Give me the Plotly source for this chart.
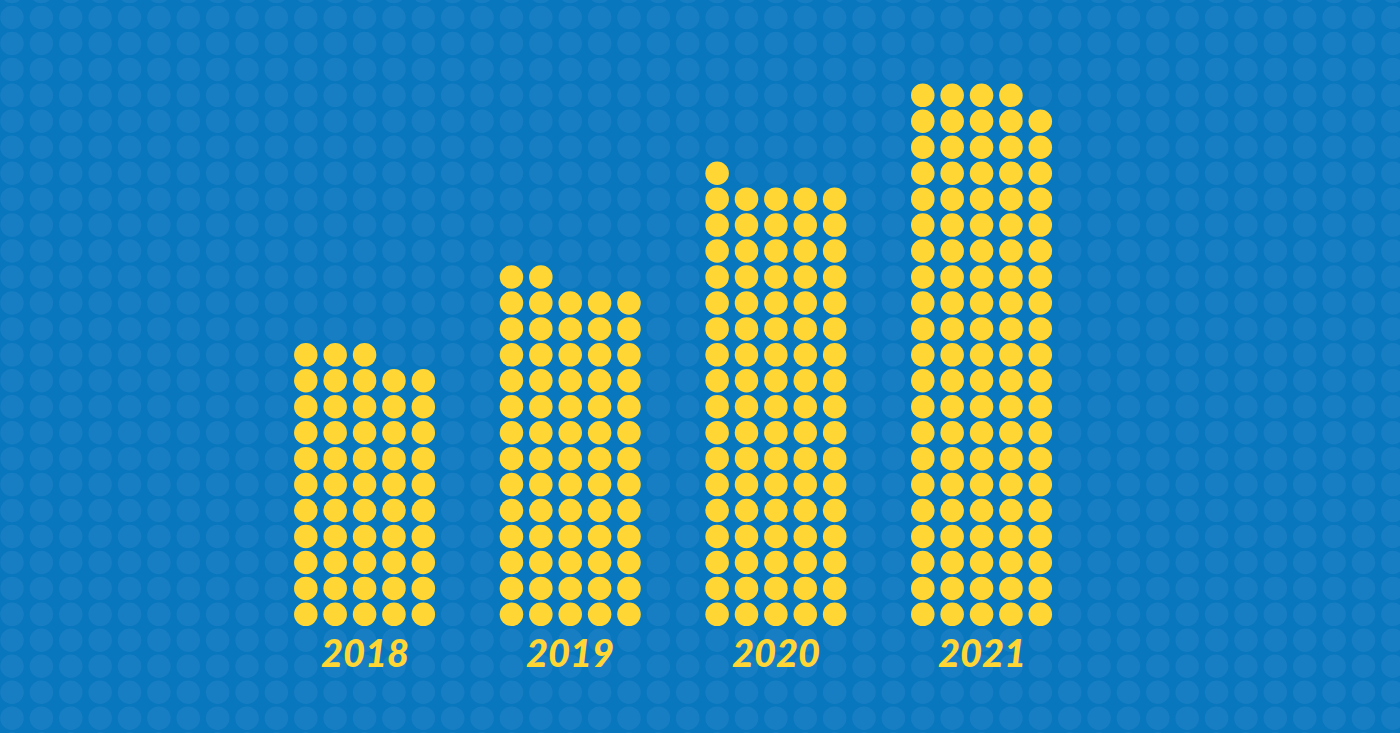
import plotly.graph_objects as go

# dots per column for each year (5 columns per year, left to right)
years = ["2018", "2019", "2020", "2021"]
col_counts_2018 = [11, 11, 11, 10, 10]
col_counts_2019 = [14, 14, 13, 13, 13]
col_counts_2020 = [18, 17, 17, 17, 17]
col_counts_2021 = [21, 21, 21, 21, 20]
col_counts = [col_counts_2018, col_counts_2019, col_counts_2020, col_counts_2021]

BG = "#0877be"
BG_DOT = "#187ec3"
YELLOW = "#ffd633"

# grid layout (in cell units)
first_col = 10
group_step = 7
base_row = 23
n_cols = 48
n_rows = 28

fig = go.Figure()

# faint background dots
bx, by = [], []
for c in range(-1, n_cols + 1):
    for r in range(-1, n_rows + 1):
        bx.append(c)
        by.append(r)
fig.add_trace(go.Scatter(
    x=bx, y=by, mode="markers", hoverinfo="skip",
    marker=dict(size=23.5, color=BG_DOT, line=dict(width=0))))

# yellow dots per year
for i, (year, counts) in enumerate(zip(years, col_counts)):
    xs, ys = [], []
    for j, n in enumerate(counts):
        for k in range(n):
            xs.append(first_col + group_step * i + j)
            ys.append(base_row - k)
    fig.add_trace(go.Scatter(
        x=xs, y=ys, mode="markers", name=year,
        marker=dict(size=23.5, color=YELLOW, line=dict(width=0))))
    fig.add_annotation(
        x=first_col + group_step * i + 2, y=base_row + 1.45,
        text=year, showarrow=False, xanchor="center", yanchor="middle",
        font=dict(family="Lato", size=38, color=YELLOW, weight=900, style="italic"))

fig.update_layout(
    width=1400, height=733,
    margin=dict(l=0, r=0, t=0, b=0),
    paper_bgcolor=BG, plot_bgcolor=BG,
    showlegend=False,
)
fig.update_xaxes(range=[-12 / 29.38, (1400 - 12) / 29.38], visible=False, fixedrange=True)
fig.update_yaxes(range=[(733 - 17.5) / 25.95, -17.5 / 25.95], visible=False, fixedrange=True)

fig.write_html("out.html", config={"displayModeBar": False},
               post_script="document.body.style.margin='0';document.body.style.overflow='hidden';")
